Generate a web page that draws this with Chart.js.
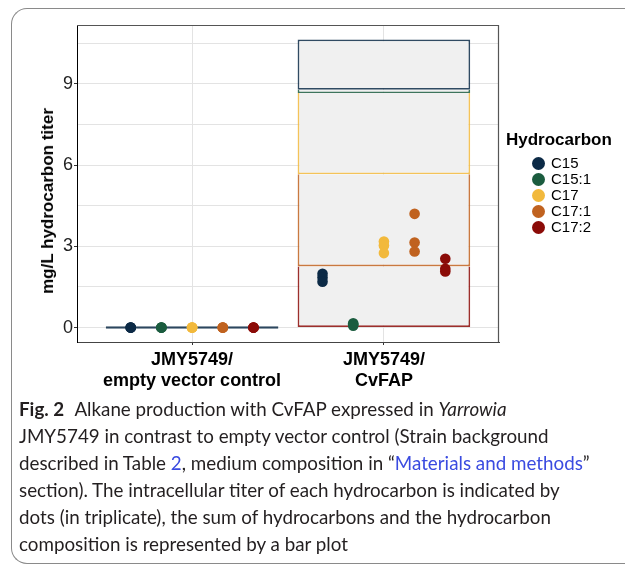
<!DOCTYPE html>
<html>
<head>
<meta charset="utf-8">
<script src="https://cdn.jsdelivr.net/npm/chart.js"></script>
<style>
  body { margin: 0; width: 625px; height: 564px; overflow: hidden; background: #fff; position: relative; }
  #frame { position: absolute; left: 11px; top: 8px; width: 700px; height: 556px; box-sizing: border-box;
           border: 1.5px solid #8a8a8a; border-right: none; border-radius: 16px 0 0 16px; }
  #chart { position: absolute; left: 0; top: 0; }
  #ytitle { position: absolute; left: 48px; top: 201px; transform: translate(-50%, -50%) rotate(-90deg);
            font: bold 17px "Liberation Sans", Arial, sans-serif; white-space: nowrap; color: #000; }
  #legend { position: absolute; left: 506px; top: 131px; font-family: "Liberation Sans", Arial, sans-serif; }
  #legend .title { font-weight: bold; font-size: 17px; line-height: 17px; height: 24px; }
  #legend .item { position: relative; height: 16px; line-height: 16px; font-size: 15px; }
  #legend .dot { position: absolute; left: 25.5px; top: 1.5px; width: 13px; height: 13px; border-radius: 50%; }
  #legend .lab { position: absolute; left: 45px; top: 0; white-space: nowrap; }
  #caption { position: absolute; left: 19px; top: 396px; font-family: Lato, "Open Sans", sans-serif; font-size: 18.8px;
             line-height: 26.9px; color: #231f20; white-space: nowrap; }
  #caption b { margin-right: 6px; }
  #caption .lnk { color: #3a4be0; }
</style>
</head>
<body>
<div id="frame"></div>
<canvas id="chart" width="625" height="400"></canvas>
<div id="ytitle">mg/L hydrocarbon titer</div>
<div id="legend"></div>
<div id="caption">
  <div><b>Fig. 2</b> Alkane production with CvFAP expressed in <i>Yarrowia</i></div>
  <div>JMY5749 in contrast to empty vector control (Strain background</div>
  <div>described in Table <span class="lnk">2</span>, medium composition in “<span class="lnk">Materials and methods</span>”</div>
  <div>section). The intracellular titer of each hydrocarbon is indicated by</div>
  <div>dots (in triplicate), the sum of hydrocarbons and the hydrocarbon</div>
  <div>composition is represented by a bar plot</div>
</div>
<script>
const hydrocarbons = ['C15', 'C15:1', 'C17', 'C17:1', 'C17:2'];
const colors = ['#0c2a46', '#1b5c3f', '#f2b93c', '#c0621f', '#8b0b07'];
const strains = [['JMY5749/', 'empty vector control'], ['JMY5749/', 'CvFAP']];

// bar heights (mg/L), one value per strain
const meanC15 = [0, 1.86];
const meanC15_1 = [0, 0.12];
const meanC17 = [0, 3.00];
const meanC17_1 = [0, 3.40];
const meanC17_2 = [0, 2.26];

// triplicate dots, per strain
const repC15 = [[0, 0, 0], [1.99, 1.85, 1.69]];
const repC15_1 = [[0, 0, 0], [0.16, 0.12, 0.07]];
const repC17 = [[0, 0, 0], [3.18, 3.03, 2.75]];
const repC17_1 = [[0, 0, 0], [4.20, 3.14, 2.81]];
const repC17_2 = [[0, 0, 0], [2.54, 2.17, 2.07]];

const yTicks = [0, 3, 6, 9];
const yMin = -0.532, yMax = 11.172;

const means = [meanC15, meanC15_1, meanC17, meanC17_1, meanC17_2];
const reps = [repC15, repC15_1, repC17, repC17_1, repC17_2];

function alpha(hex, a) {
  let r = parseInt(hex.slice(1, 3), 16), g = parseInt(hex.slice(3, 5), 16), b = parseInt(hex.slice(5, 7), 16);
  return `rgba(${r},${g},${b},${a})`;
}

const datasets = [];

// dots, dodged within each strain
hydrocarbons.forEach((h, i) => {
  let pts = [];
  reps[i].forEach((vals, s) => {
    vals.forEach(v => pts.push({x: s + 1 + (i - 2) * 0.16, y: v}));
  });
  datasets.push({
    type: 'scatter',
    label: h,
    data: pts,
    yAxisID: 'yp',
    order: -1,
    backgroundColor: colors[i],
    pointRadius: 5.3,
    pointBorderWidth: 0,
    pointHoverRadius: 5.3
  });
});

// stacked bars, bottom of stack first
for (let i = hydrocarbons.length - 1; i >= 0; i--) {
  datasets.push({
    type: 'bar',
    label: hydrocarbons[i],
    data: means[i].map((v, s) => ({x: s + 1, y: v})),
    yAxisID: 'y',
    stack: 'sum',
    backgroundColor: '#f0f0f0',
    borderColor: alpha(colors[i], 0.85),
    borderWidth: 1.8,
    borderSkipped: i === 0 ? false : 'top',
    minBarLength: i === 0 ? 2.5 : 0,
    barPercentage: 0.9,
    categoryPercentage: 1
  });
}

const panelFrame = {
  id: 'panelFrame',
  beforeDatasetsDraw(chart) {
    const {ctx, chartArea: a} = chart;
    ctx.save();
    ctx.strokeStyle = '#555';
    ctx.lineWidth = 1.2;
    ctx.beginPath();
    ctx.moveTo(a.left, a.top + 0.5);
    ctx.lineTo(a.right - 0.5, a.top + 0.5);
    ctx.lineTo(a.right - 0.5, a.bottom);
    ctx.stroke();
    ctx.restore();
  }
};

new Chart(document.getElementById('chart'), {
  type: 'bar',
  data: { datasets: datasets },
  plugins: [panelFrame],
  options: {
    responsive: false,
    animation: false,
    devicePixelRatio: 1,
    layout: { padding: { left: 0, top: 25, right: 126, bottom: 0 } },
    plugins: { legend: { display: false }, tooltip: { enabled: false } },
    scales: {
      x: {
        type: 'linear',
        offset: false,
        min: 0.4, max: 2.6,
        afterFit(scale) { scale.height = 58; },
        ticks: {
          stepSize: 1,
          includeBounds: false,
          padding: 4,
          color: '#000',
          font: { family: 'Liberation Sans', size: 18, weight: 'bold', lineHeight: 1.2 },
          callback: v => strains[v - 1] || ''
        },
        grid: { offset: false, color: '#e3e3e3', lineWidth: 1, tickLength: 3, tickColor: '#333' },
        border: { color: '#444', width: 1 }
      },
      y: {
        type: 'linear',
        stacked: true,
        min: yMin, max: yMax,
        afterFit(scale) { scale.width = 77; },
        ticks: {
          stepSize: 1.5,
          includeBounds: false,
          padding: 1,
          color: '#222',
          font: { family: 'Liberation Sans', size: 18 },
          callback: v => yTicks.includes(v) ? String(v) : ''
        },
        grid: {
          color: '#e3e3e3', lineWidth: 1, tickLength: 3,
          tickColor: c => (c.tick && yTicks.includes(c.tick.value)) ? '#333' : 'rgba(0,0,0,0)'
        },
        border: { color: '#000', width: 1 }
      },
      yp: {
        type: 'linear',
        display: false,
        min: yMin, max: yMax
      }
    }
  }
});

// legend
const legend = document.getElementById('legend');
let html = '<div class="title">Hydrocarbon</div>';
hydrocarbons.forEach((h, i) => {
  html += `<div class="item"><span class="dot" style="background:${colors[i]}"></span><span class="lab">${h}</span></div>`;
});
legend.innerHTML = html;
</script>
</body>
</html>
